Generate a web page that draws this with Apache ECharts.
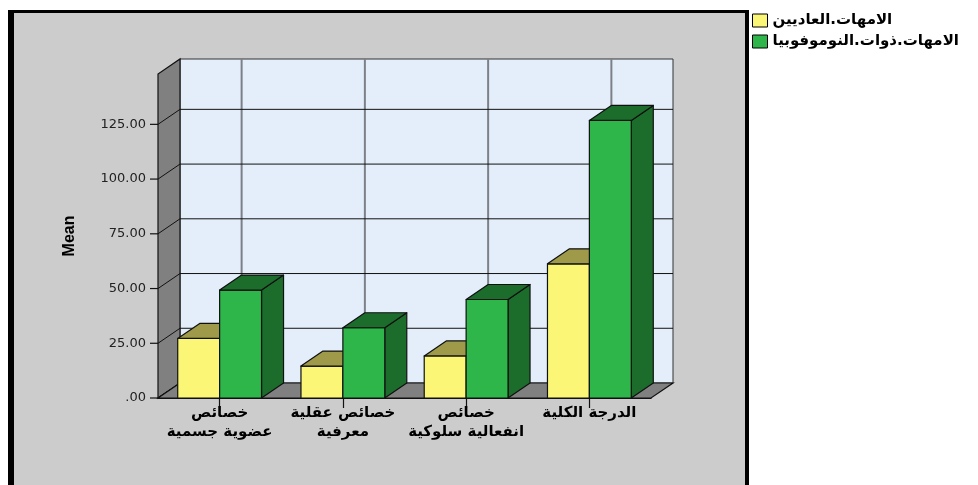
<!DOCTYPE html>
<html><head><meta charset="utf-8">
<script src="https://cdn.jsdelivr.net/npm/echarts@6/dist/echarts.min.js"></script>
<style>html,body{margin:0;padding:0;background:#fff}#c{width:978px;height:485px}</style>
</head><body><div id="c"></div>
<script>
const categories = ['خصائص\nعضوية جسمية', 'خصائص عقلية\nمعرفية', 'خصائص\nانفعالية سلوكية', 'الدرجة الكلية'];
const seriesNames = ['الامهات.العاديين', 'الامهات.ذوات.النوموفوبيا'];
const normalMeans = [27.2, 14.6, 19.2, 61.3];
const phobiaMeans = [49.3, 32.1, 45.0, 126.8];
const yTicks = [0, 25, 50, 75, 100, 125];
const yMax = 148;

const DX = 22, DY = -15;
const BAR_FRAC = 0.34;
const YELLOW = ['#fbf675', '#9e9a4a'];
const GREEN = ['#2eb64a', '#1c6d2c'];

function bar3d(api, side, colors) {
  const idx = api.value(0), v = api.value(1);
  const top = api.coord([idx, v]);
  const base = api.coord([idx, 0]);
  const band = api.size([1, 0])[0];
  const w = band * BAR_FRAC;
  const x0 = side < 0 ? top[0] - w : top[0];
  const x1 = x0 + w;
  const yT = top[1], y0 = base[1];
  const st = { stroke: '#111', lineWidth: 1.2, lineJoin: 'round' };
  return { type: 'group', children: [
    { type: 'polygon', shape: { points: [[x1, y0], [x1, yT], [x1 + DX, yT + DY], [x1 + DX, y0 + DY]] }, style: Object.assign({ fill: colors[1] }, st) },
    { type: 'rect', shape: { x: x0, y: yT, width: w, height: y0 - yT }, style: Object.assign({ fill: colors[0] }, st) },
    { type: 'polygon', shape: { points: [[x0, yT], [x1, yT], [x1 + DX, yT + DY], [x0 + DX, yT + DY]] }, style: Object.assign({ fill: colors[1] }, st) }
  ]};
}

function walls(params, api) {
  const n = categories.length;
  const band = api.size([1, 0])[0];
  const c0 = api.coord([0, 0]);
  const xL = c0[0] - band / 2, xR = xL + band * n;
  const yB = c0[1];
  const yT = api.coord([0, yMax])[1];
  const ch = [];
  ch.push({ type: 'rect', shape: { x: xL + DX, y: yT + DY, width: xR - xL, height: yB - yT }, style: { fill: '#e3eefa', stroke: '#333', lineWidth: 1 } });
  for (let i = 0; i < n; i++) {
    const x = api.coord([i, 0])[0] + DX;
    ch.push({ type: 'line', shape: { x1: x, y1: yT + DY, x2: x, y2: yB + DY }, style: { stroke: '#7c8088', lineWidth: 2 } });
  }
  yTicks.forEach(t => {
    if (t === 0) return;
    const y = api.coord([0, t])[1] + DY;
    ch.push({ type: 'line', shape: { x1: xL + DX, y1: y, x2: xR + DX, y2: y }, style: { stroke: '#111', lineWidth: 1 } });
  });
  ch.push({ type: 'polygon', shape: { points: [[xL, yB], [xL, yT], [xL + DX, yT + DY], [xL + DX, yB + DY]] }, style: { fill: '#808080', stroke: '#111', lineWidth: 1.2 } });
  yTicks.forEach(t => {
    const y = api.coord([0, t])[1];
    ch.push({ type: 'line', shape: { x1: xL, y1: y, x2: xL + DX, y2: y + DY }, style: { stroke: '#111', lineWidth: 1 } });
    ch.push({ type: 'line', shape: { x1: xL - 8, y1: y, x2: xL, y2: y }, style: { stroke: '#111', lineWidth: 1.2 } });
  });
  ch.push({ type: 'polygon', shape: { points: [[xL, yB], [xR, yB], [xR + DX, yB + DY], [xL + DX, yB + DY]] }, style: { fill: '#808080', stroke: '#111', lineWidth: 1.2 } });
  return { type: 'group', children: ch };
}

const chart = echarts.init(document.getElementById('c'), null, { renderer: 'canvas' });
chart.setOption({
  animation: false,
  backgroundColor: '#ffffff',
  graphic: [
    { type: 'rect', z: -10, shape: { x: 8, y: 10, width: 741, height: 490 }, style: { fill: '#000' } },
    { type: 'rect', z: -9, shape: { x: 14, y: 13, width: 731, height: 490 }, style: { fill: '#cccccc' } }
  ],
  grid: { left: 158, right: 327, top: 74, bottom: 87 },
  legend: {
    orient: 'vertical', left: 752, top: 13, padding: 0, itemWidth: 15, itemHeight: 13, itemGap: 6, icon: 'rect',
    textStyle: { fontSize: 15, fontWeight: 'bold', color: '#000', fontFamily: 'DejaVu Sans' },
    data: [
      { name: seriesNames[0], itemStyle: { color: YELLOW[0], borderColor: '#000', borderWidth: 1 } },
      { name: seriesNames[1], itemStyle: { color: GREEN[0], borderColor: '#000', borderWidth: 1 } }
    ]
  },
  xAxis: {
    type: 'category', data: categories,
    axisLine: { show: true, lineStyle: { color: '#111', width: 1.2 } },
    axisTick: { show: true, alignWithLabel: true, length: 10, lineStyle: { color: '#111', width: 1.2 } },
    axisLabel: { margin: 6, color: '#000', fontWeight: 'bold', fontSize: 15, lineHeight: 19, fontFamily: 'DejaVu Sans', interval: 0 },
    splitLine: { show: false }
  },
  yAxis: {
    type: 'value', min: 0, max: yMax, interval: 25,
    name: 'Mean', nameLocation: 'middle', nameRotate: 90, nameGap: 80,
    nameTextStyle: { fontSize: 16, fontWeight: 'bold', color: '#000', fontFamily: 'Liberation Sans' },
    axisLine: { show: false }, axisTick: { show: false }, splitLine: { show: false },
    axisLabel: {
      margin: 12, fontSize: 13, color: '#222', fontFamily: 'DejaVu Sans', showMaxLabel: false,
      formatter: v => (yTicks.indexOf(v) < 0 ? '' : (v === 0 ? '.00' : v.toFixed(2)))
    }
  },
  series: [
    { type: 'custom', name: 'walls', silent: true, renderItem: walls, data: [[0, 0]], z: 1 },
    { type: 'custom', name: seriesNames[0], itemStyle: { color: YELLOW[0] }, z: 2,
      renderItem: (p, api) => bar3d(api, -1, YELLOW), data: normalMeans.map((v, i) => [i, v]) },
    { type: 'custom', name: seriesNames[1], itemStyle: { color: GREEN[0] }, z: 3,
      renderItem: (p, api) => bar3d(api, 1, GREEN), data: phobiaMeans.map((v, i) => [i, v]) }
  ]
});
</script></body></html>
